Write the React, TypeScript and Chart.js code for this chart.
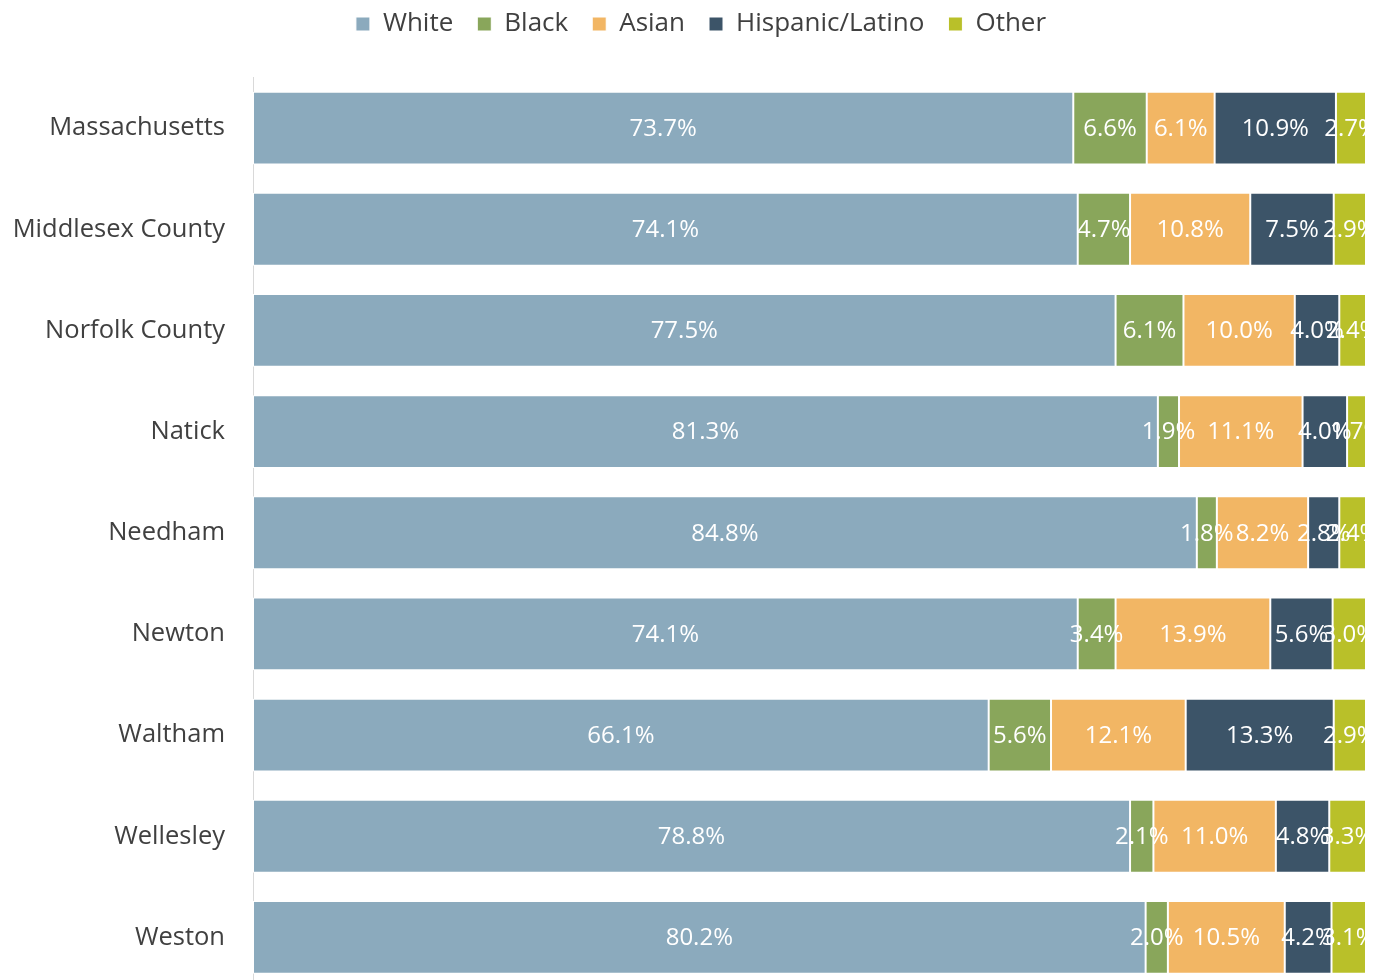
import React, { useEffect, useRef } from "react";
import { Chart, registerables } from "chart.js";

Chart.register(...registerables);

const categories = [
  "Massachusetts",
  "Middlesex County",
  "Norfolk County",
  "Natick",
  "Needham",
  "Newton",
  "Waltham",
  "Wellesley",
  "Weston",
];

const seriesNames = ["White", "Black", "Asian", "Hispanic/Latino", "Other"];
const seriesColors = ["#8BAABD", "#89A65B", "#F2B664", "#3C5468", "#B9C029"];

const white = [73.7, 74.1, 77.5, 81.3, 84.8, 74.1, 66.1, 78.8, 80.2];
const black = [6.6, 4.7, 6.1, 1.9, 1.8, 3.4, 5.6, 2.1, 2.0];
const asian = [6.1, 10.8, 10.0, 11.1, 8.2, 13.9, 12.1, 11.0, 10.5];
const hispanic = [10.9, 7.5, 4.0, 4.0, 2.8, 5.6, 13.3, 4.8, 4.2];
const other = [2.7, 2.9, 2.4, 1.7, 2.4, 3.0, 2.9, 3.3, 3.1];

const seriesValues = [white, black, asian, hispanic, other];

const FONT = "'Open Sans', sans-serif";

const labelPlugin = {
  id: "segLabels",
  afterDatasetsDraw(chart: any) {
    const { ctx, chartArea } = chart;
    ctx.save();
    ctx.beginPath();
    ctx.rect(chartArea.left, chartArea.top, chartArea.right - chartArea.left, chartArea.bottom - chartArea.top);
    ctx.clip();
    ctx.fillStyle = "#ffffff";
    ctx.font = `24px ${FONT}`;
    ctx.textAlign = "center";
    ctx.textBaseline = "middle";
    chart.data.datasets.forEach((ds: any, di: number) => {
      const meta = chart.getDatasetMeta(di);
      meta.data.forEach((el: any, i: number) => {
        const p = el.getCenterPoint();
        ctx.fillText(ds.data[i].toFixed(1) + "%", p.x, p.y + 1);
      });
    });
    ctx.restore();
  },
};

const legendPlugin = {
  id: "legendAdjust",
  beforeLayout(chart: any) {
    const lg = chart.legend;
    if (lg && !lg._patched) {
      const orig = lg.fit;
      lg.fit = function () {
        orig.call(this);
        this.height = 77.5;
      };
      lg._patched = true;
    }
  },
  afterLayout(chart: any) {
    const lg = chart.legend;
    if (lg) {
      lg.top = lg.top - 13;
      lg.left = lg.left + 18;
      lg.right = lg.right + 18;
    }
  },
};

export default function App() {
  const ref = useRef<HTMLCanvasElement | null>(null);
  useEffect(() => {
    if (!ref.current) return;
    const chart = new Chart(ref.current, {
      type: "bar",
      data: {
        labels: categories,
        datasets: seriesNames.map((name, i) => ({
          label: name,
          data: seriesValues[i],
          backgroundColor: seriesColors[i],
          borderColor: "#ffffff",
          borderWidth: 1,
          borderSkipped: false,
          categoryPercentage: 1,
          barPercentage: 0.72,
        })),
      },
      options: {
        indexAxis: "y",
        animation: false,
        responsive: false,
        maintainAspectRatio: false,
        devicePixelRatio: 1,
        layout: { padding: { left: 0, right: 17, top: 0, bottom: 0 } },
        plugins: {
          legend: {
            position: "top",
            align: "center",
            labels: {
              boxWidth: 14,
              boxHeight: 14,
              padding: 24,
              color: "#404040",
              font: { family: FONT, size: 26 },
            },
          },
          tooltip: { enabled: false },
        },
        scales: {
          x: {
            stacked: true,
            min: 0,
            max: 100,
            display: false,
          },
          y: {
            stacked: true,
            grid: { display: false, drawTicks: false, tickLength: 0 },
            border: { display: true, color: "#D9D9D9", width: 1 },
            ticks: {
              color: "#404040",
              font: { family: FONT, size: 25.5 },
              padding: 28,
            },
            afterFit: (s: any) => {
              s.width = 253;
              s.paddingTop = 0;
              s.paddingBottom = 0;
            },
          },
        },
      },
      plugins: [labelPlugin, legendPlugin],
    });
    return () => chart.destroy();
  }, []);
  return (
    <div style={{ position: "fixed", left: 0, top: 0, right: 0, bottom: 0, overflow: "hidden", background: "#fff" }}>
      <canvas ref={ref} width={1383} height={988} style={{ display: "block", width: 1383, height: 988 }} />
    </div>
  );
}
